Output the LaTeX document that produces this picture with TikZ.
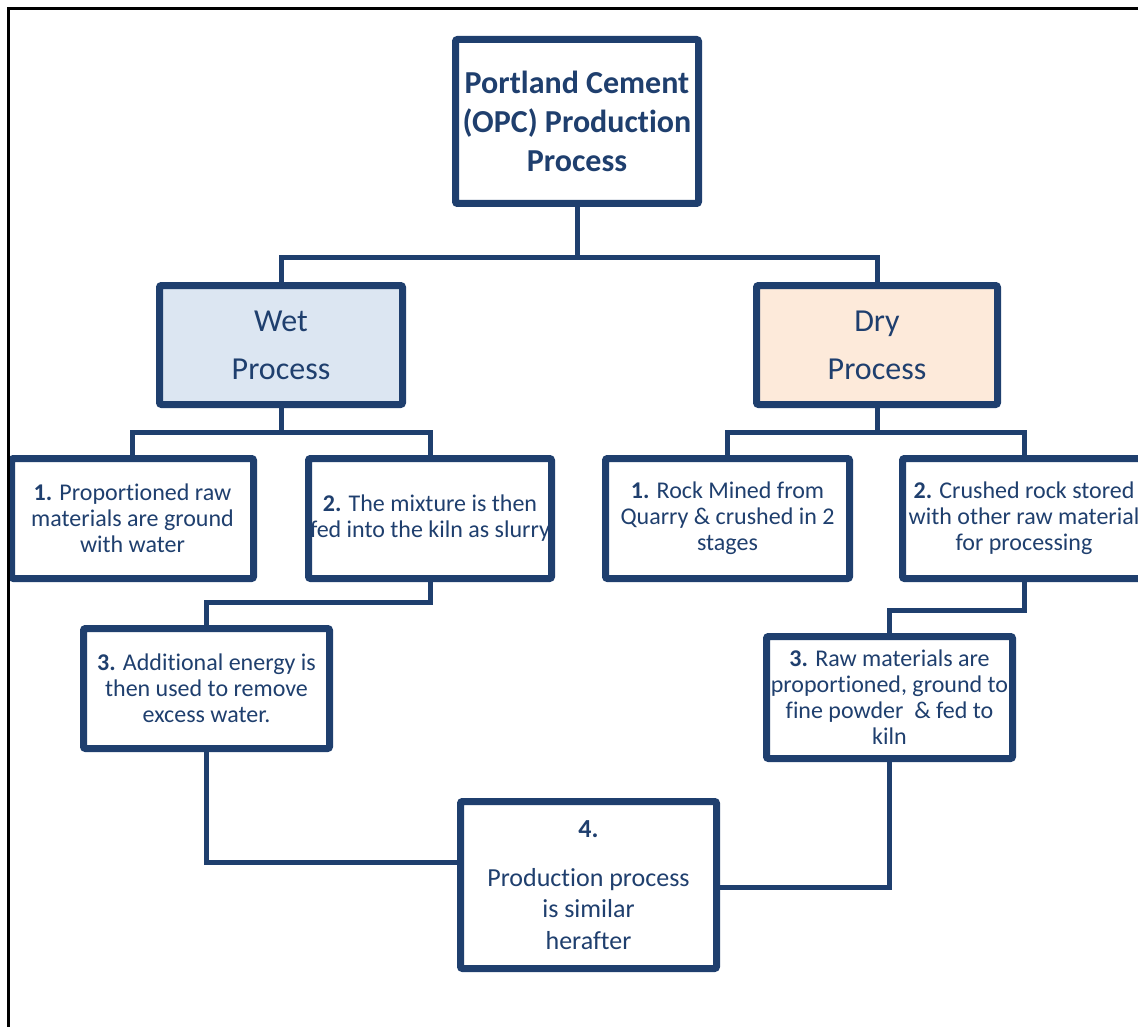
\documentclass[tikz,border=0pt]{standalone}
\usepackage{fontspec}
\setmainfont{Carlito}[Ligatures=NoCommon]
\usetikzlibrary{backgrounds}
\definecolor{navy}{RGB}{31,63,110}
\definecolor{wetfill}{RGB}{220,230,242}
\definecolor{dryfill}{RGB}{253,234,218}
\begin{document}
\begin{tikzpicture}[x=1pt,y=-1pt,
  box/.style={draw=navy, line width=7pt, rounded corners=2pt, fill=white, text=navy,
    align=center, inner sep=0pt},
  small/.style={font=\fontsize{24}{26}\selectfont},
  conn/.style={draw=navy, line width=5pt}]
\useasboundingbox (0,0) rectangle (1138,1027);
\clip (0,0) rectangle (1138,1027);
% bus coordinates
\coordinate (busT) at (577,258);
\coordinate (busW) at (281,432);
\coordinate (busD) at (877,432);
\coordinate (m1) at (430,602);
\coordinate (m2) at (1024,610);
% nodes
\node[box, minimum width=243pt, minimum height=164pt, font=\bfseries\fontsize{32}{39}\selectfont]
  (top) at (577,121.5) {Portland Cement\\(OPC) Production\\Process};
\node[box, fill=wetfill, minimum width=243pt, minimum height=119pt, font=\fontsize{32}{48}\selectfont]
  (wet) at (281,345) {Wet\\Process};
\node[box, fill=dryfill, minimum width=241pt, minimum height=119pt, font=\fontsize{32}{48}\selectfont]
  (dry) at (877,345) {Dry\\Process};
\node[box, small, minimum width=242pt, minimum height=120pt]
  (w1) at (132.5,518.5) {\textbf{1.} Proportioned raw\\materials are ground\\with water};
\node[box, small, minimum width=243pt, minimum height=120pt]
  (w2) at (430,518.5) {\textbf{2.} The mixture is then\\fed into the kiln as slurry};
\node[box, small, minimum width=246pt, minimum height=120pt]
  (w3) at (206.5,688.5) {\textbf{3.} Additional energy is\\then used to remove\\excess water.};
\node[box, small, minimum width=244pt, minimum height=120pt]
  (d1) at (727.5,518.5) {\textbf{1.} Rock Mined from\\Quarry \& crushed in 2\\stages};
\node[box, small, minimum width=243pt, minimum height=120pt]
  (d2) at (1024,518.5) {\textbf{2.} Crushed rock stored\\with other raw material\\for processing};
\node[box, small, minimum width=246pt, minimum height=122pt]
  (d3) at (889.5,697.5) {\textbf{3.} Raw materials are\\proportioned, ground to\\fine powder \ \& fed to\\kiln};
\node[box, minimum width=256pt, minimum height=167pt, font=\fontsize{26}{31.5}\selectfont]
  (b4) at (588.5,885) {\textbf{4.}\\[17pt]Production process\\is similar\\herafter};
% connectors behind boxes
\begin{scope}[on background layer]
\draw[conn] (top.south) -- (busT);
\draw[conn] (wet.north) |- (busT) -| (dry.north);
\draw[conn] (wet.south) -- (busW);
\draw[conn] (w1.north) |- (busW) -| (w2.north);
\draw[conn] (dry.south) -- (busD);
\draw[conn] (d1.north) |- (busD) -| (d2.north);
\draw[conn] (w2.south) -- (m1) -| (w3.north);
\draw[conn] (d2.south) -- (m2) -| (d3.north);
\draw[conn] (w3.south) |- ([yshift=23pt]b4.west);
\draw[conn] (d3.south) |- ([yshift=-2pt]b4.east);
\end{scope}
% frame
\draw[black, line width=3pt] (8.5,1027) -- (8.5,8.5) -- (1138,8.5);
\end{tikzpicture}
\end{document}
